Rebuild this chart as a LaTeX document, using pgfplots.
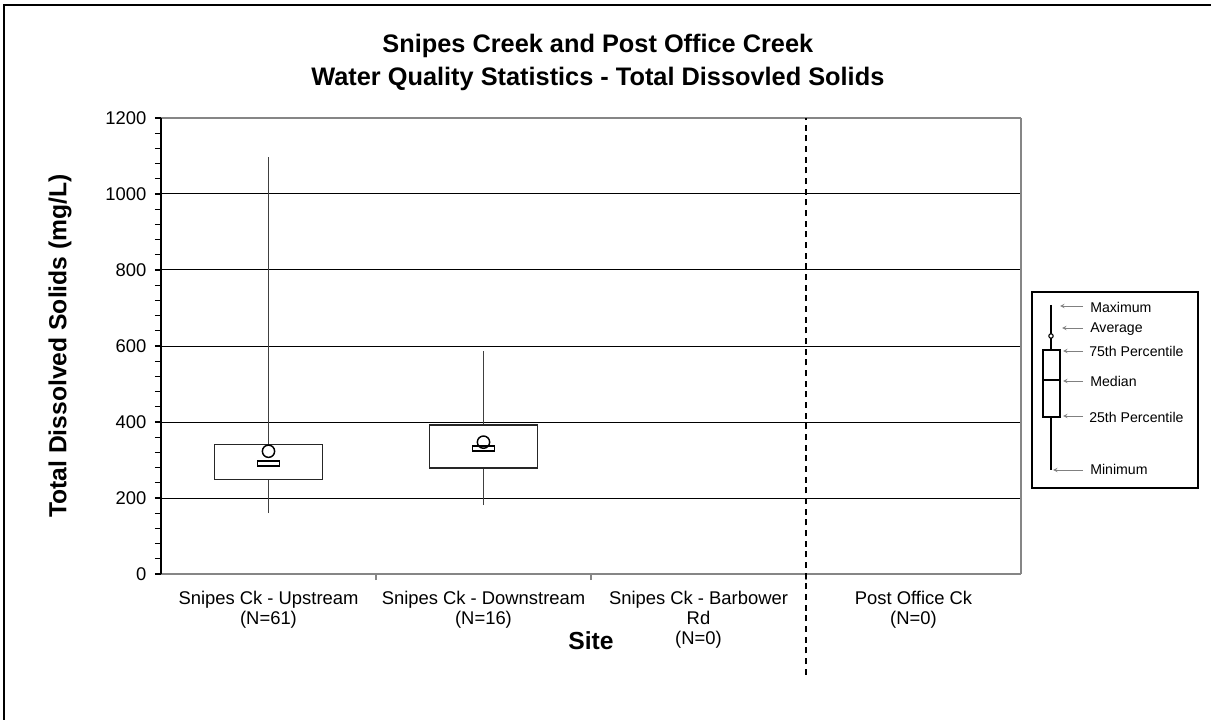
\documentclass[border=0pt]{standalone}
\usepackage{fontspec}
\setmainfont{Liberation Sans}
\usepackage{pgfplots}
\pgfplotsset{compat=1.18}
\definecolor{axgray}{RGB}{134,134,134}
\definecolor{whiskgray}{RGB}{64,64,64}

\begin{document}
\begin{tikzpicture}
\begin{scope}[x=0.75pt,y=-0.75pt]
\useasboundingbox (0,0) rectangle (1211,720);
\draw[line width=1.5pt] (4,720) -- (4,5) -- (1211,5);
\end{scope}
\begin{axis}[
  at={(120.75pt,-430.5pt)}, anchor=south west,
  scale only axis, width=645pt, height=342pt,
  xmin=-0.5, xmax=3.5, ymin=0, ymax=1200,
  clip=false,
  separate axis lines,
  axis line style={axgray, line width=1.5pt},
  ytick={0,200,...,1200}, minor y tick num=4,
  ytick pos=left, xtick pos=bottom,
  tick align=outside,
  major tick length=4.5pt, minor tick length=4.5pt,
  y tick style={black, line width=0.9pt},
  x tick style={axgray, line width=0.9pt},
  ymajorgrids, grid style={black, line width=0.75pt},
  xtick={0.5,1.5,2.5}, xticklabels={},
  extra x ticks={0,1,2,3},
  extra x tick labels={{Snipes Ck - Upstream\\(N=61)},{Snipes Ck - Downstream\\(N=16)},{Snipes Ck - Barbower\\Rd\\(N=0)},{Post Office Ck\\(N=0)}},
  extra x tick style={grid=none, major tick length=0pt},
  x tick label style={align=center, font=\fontsize{13.8}{15}\selectfont, yshift=-9pt},
  y tick label style={font=\fontsize{13.8}{15}\selectfont, xshift=-3pt},
  /pgf/number format/assume math mode=true,
  /pgf/number format/1000 sep={},
  title={Snipes Creek and Post Office Creek\\Water Quality Statistics - Total Dissovled Solids},
  title style={at={(axis description cs:0.508,1.105)}, anchor=center, align=center, font=\bfseries\fontsize{19}{24.8}\selectfont},
  ylabel={Total Dissolved Solids (mg/L)},
  ylabel style={at={(axis description cs:-0.1174,0.5)}, anchor=center, font=\bfseries\fontsize{18.5}{20}\selectfont},
  xlabel={Site},
  xlabel style={at={(axis description cs:0.5,-0.1469)}, anchor=center, font=\bfseries\fontsize{18.5}{20}\selectfont},
]
% dashed separator
\addplot[black, dashed, line width=1.1pt, dash pattern=on 4.5pt off 3.5pt] coordinates {(2.5,-265) (2.5,1200)};
% Upstream: min 160, q1 249, median 291, q3 340, max 1098, mean 323
\addplot[whiskgray, line width=0.8pt] coordinates {(0,340) (0,1098)};
\addplot[whiskgray, line width=0.8pt] coordinates {(0,160) (0,249)};
\addplot[draw=black!85, fill=white, line width=0.85pt] coordinates {(-0.25,249) (0.25,249) (0.25,340) (-0.25,340)} -- cycle;
\addplot[draw=black, fill=white, line width=1.1pt] coordinates {(-0.051,284.5) (0.051,284.5) (0.051,297.5) (-0.051,297.5)} -- cycle;
% Downstream: min 181, q1 279, median 330, q3 392, max 588, mean 347
\addplot[whiskgray, line width=0.8pt] coordinates {(1,392) (1,588)};
\addplot[whiskgray, line width=0.8pt] coordinates {(1,181) (1,279)};
\addplot[draw=black!85, fill=white, line width=0.85pt] coordinates {(0.75,279) (1.25,279) (1.25,392) (0.75,392)} -- cycle;
\addplot[draw=black, fill=white, line width=1.1pt] coordinates {(0.949,323.5) (1.051,323.5) (1.051,336.5) (0.949,336.5)} -- cycle;
% averages
\addplot[only marks, mark=o, mark size=4.6pt, mark options={black, fill=white, line width=1.1pt}] coordinates {(0,323) (1,347)};
% left axis dark
\draw[black, line width=1.1pt] (rel axis cs:0,0) -- (rel axis cs:0,1);
\end{axis}
\begin{scope}[x=0.75pt,y=-0.75pt]
\draw[line width=1.5pt] (1032,292) rectangle (1198,488);
\draw[line width=1.1pt] (1051,305) -- (1051,470);
\draw[line width=1.1pt, fill=white] (1043,350) rectangle (1060,417);
\draw[line width=1.1pt] (1043,380) -- (1060,380);
\draw[line width=0.8pt, fill=white] (1051,336) circle[radius=2.2];
\begin{scope}[gray, line width=0.5pt, ->, >=stealth]
\draw (1083,306) -- (1060,306);
\draw (1083,328) -- (1062,328);
\draw (1083,351) -- (1063,351);
\draw (1083,381) -- (1063,381);
\draw (1083,416) -- (1063,416);
\draw (1083,470) -- (1053,470);
\end{scope}
\begin{scope}[font=\fontsize{10.6}{12}\selectfont]
\node[anchor=west, inner sep=0pt] at (1090,307) {Maximum};
\node[anchor=west, inner sep=0pt] at (1090,329) {Average};
\node[anchor=west, inner sep=0pt] at (1089,351) {75th Percentile};
\node[anchor=west, inner sep=0pt] at (1090,381) {Median};
\node[anchor=west, inner sep=0pt] at (1089,417) {25th Percentile};
\node[anchor=west, inner sep=0pt] at (1090,469) {Minimum};
\end{scope}
\end{scope}
\end{tikzpicture}
\end{document}
